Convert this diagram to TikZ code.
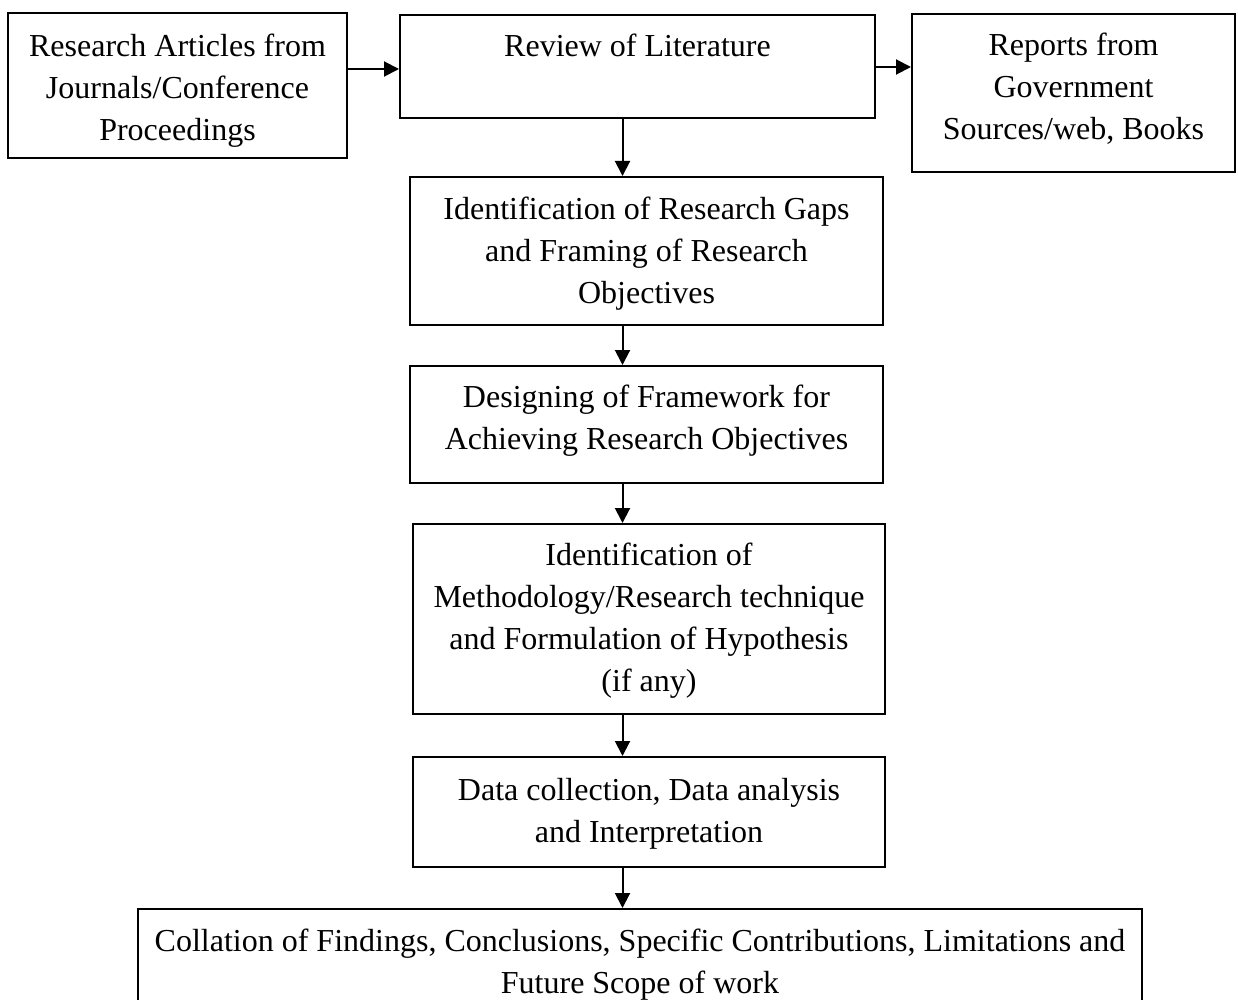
\documentclass[tikz,border=0pt]{standalone}
\usepackage{fontspec}
\setmainfont{Liberation Serif}
\usetikzlibrary{arrows.meta}
\begin{document}
\begin{tikzpicture}[x=1pt,y=-1pt,
  box/.style={draw, line width=2pt, inner sep=0pt},
  txt/.style={align=center, font=\fontsize{32}{42}\selectfont, inner sep=0pt},
  arr/.style={line width=2pt, -{Triangle[length=15pt,width=15pt]}}]
\useasboundingbox (0,0) rectangle (1238,1000);
\clip (0,0) rectangle (1238,1000);
\fill[white] (0,0) rectangle (1238,1000);

% frames
\node[box, minimum width=339pt,  minimum height=145pt] (b1) at (177.5,85.5) {};
\node[box, minimum width=475pt,  minimum height=103pt] (b2) at (637.5,67) {};
\node[box, minimum width=323pt,  minimum height=158pt] (b3) at (1073.5,93) {};
\node[box, minimum width=473pt,  minimum height=148pt] (b4) at (646.5,251) {};
\node[box, minimum width=473pt,  minimum height=117pt] (b5) at (646.5,424.5) {};
\node[box, minimum width=472pt,  minimum height=190pt] (b6) at (649,619) {};
\node[box, minimum width=472pt,  minimum height=110pt] (b7) at (649,812) {};
\node[box, minimum width=1004pt, minimum height=121pt] (b8) at (640,969.5) {};

% texts
\node[txt] (t1) at (177.5,90.5) {Research Articles from\\Journals/Conference\\Proceedings};
\node[txt] (t2) at (637.5,45.5) {Review of Literature};
\node[txt] (t3) at (1073.5,89) {Reports from\\Government\\Sources/web, Books};
\node[txt] (t4) at (646.5,253.5) {Identification of Research Gaps\\and Framing of Research\\Objectives};
\node[txt] (t5) at (646.5,421) {Designing of Framework for\\Achieving Research Objectives};
\node[txt] (t6) at (649,621) {Identification of\\Methodology/Research technique\\and Formulation of Hypothesis\\(if any)};
\node[txt] (t7) at (649,813.5) {Data collection, Data analysis\\and Interpretation};
\node[txt] (t8) at (640,965) {Collation of Findings, Conclusions, Specific Contributions, Limitations and\\Future Scope of work};

% connectors
\coordinate (spine) at (622.5,0);
\draw[arr] (b1.east |- 0,69) -- (b2.west |- 0,69);
\draw[arr] (b2.east) -- (b3.west |- b2.east);
\draw[arr] (b2.south -| spine) -- (b4.north -| spine);
\draw[arr] (b4.south -| spine) -- (b5.north -| spine);
\draw[arr] (b5.south -| spine) -- (b6.north -| spine);
\draw[arr] (b6.south -| spine) -- (b7.north -| spine);
\draw[arr] (b7.south -| spine) -- (b8.north -| spine);
\end{tikzpicture}
\end{document}
